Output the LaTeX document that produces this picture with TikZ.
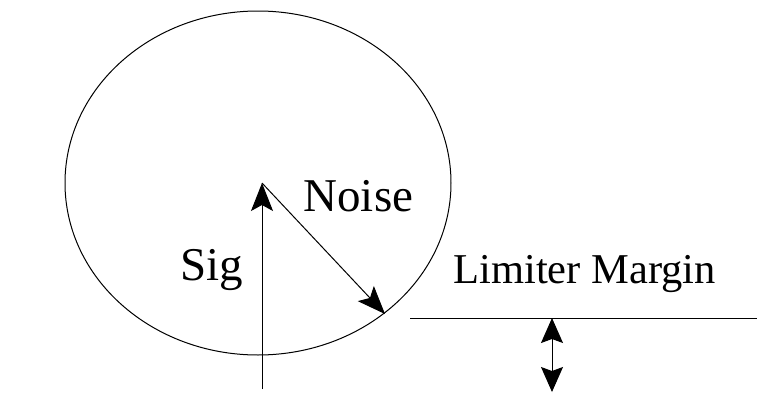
\documentclass[tikz,border=0pt]{standalone}
\usepackage{fontspec}
\setmainfont{Liberation Serif}
\usetikzlibrary{arrows.meta}

\begin{document}
\begin{tikzpicture}[
    x=0.5pt, y=-0.5pt,
    line width=0.5pt,
    arr/.style={-{Stealth[length=14pt, width=11pt, inset=3pt]}},
    darr/.style={{Stealth[length=12.5pt, width=11pt, inset=2pt]}-{Stealth[length=12.5pt, width=11pt, inset=2pt]}},
    big/.style={font=\fontsize{23.5pt}{28pt}\selectfont, inner sep=0pt, anchor=base west},
    small/.style={font=\fontsize{21.25pt}{26pt}\selectfont, inner sep=0pt, anchor=base west}
]
    \useasboundingbox (0,0) rectangle (762,392);

    % Noise circle
    \draw (258,183) ellipse [x radius=96.5pt, y radius=86pt];

    % Vectors
    \coordinate (ctr) at (262,183);
    \coordinate (sigfoot) at (262,389);
    \coordinate (noisetip) at (385,314);
    \draw[arr] (sigfoot) -- (ctr);
    \draw[arr] (ctr) -- (noisetip);
    \node[big] (sig) at (180,280) {Sig};
    \node[big] (noise) at (303,211) {Noise};

    % Limiter
    \coordinate (limL) at (410,318);
    \coordinate (limR) at (757,318);
    \coordinate (mtop) at (552,318);
    \coordinate (mbot) at (552,392);
    \draw (limL) -- (limR);
    \draw[darr] (mtop) -- (mbot);
    \node[small] (margin) at (453,283) {Limiter Margin};
\end{tikzpicture}
\end{document}
